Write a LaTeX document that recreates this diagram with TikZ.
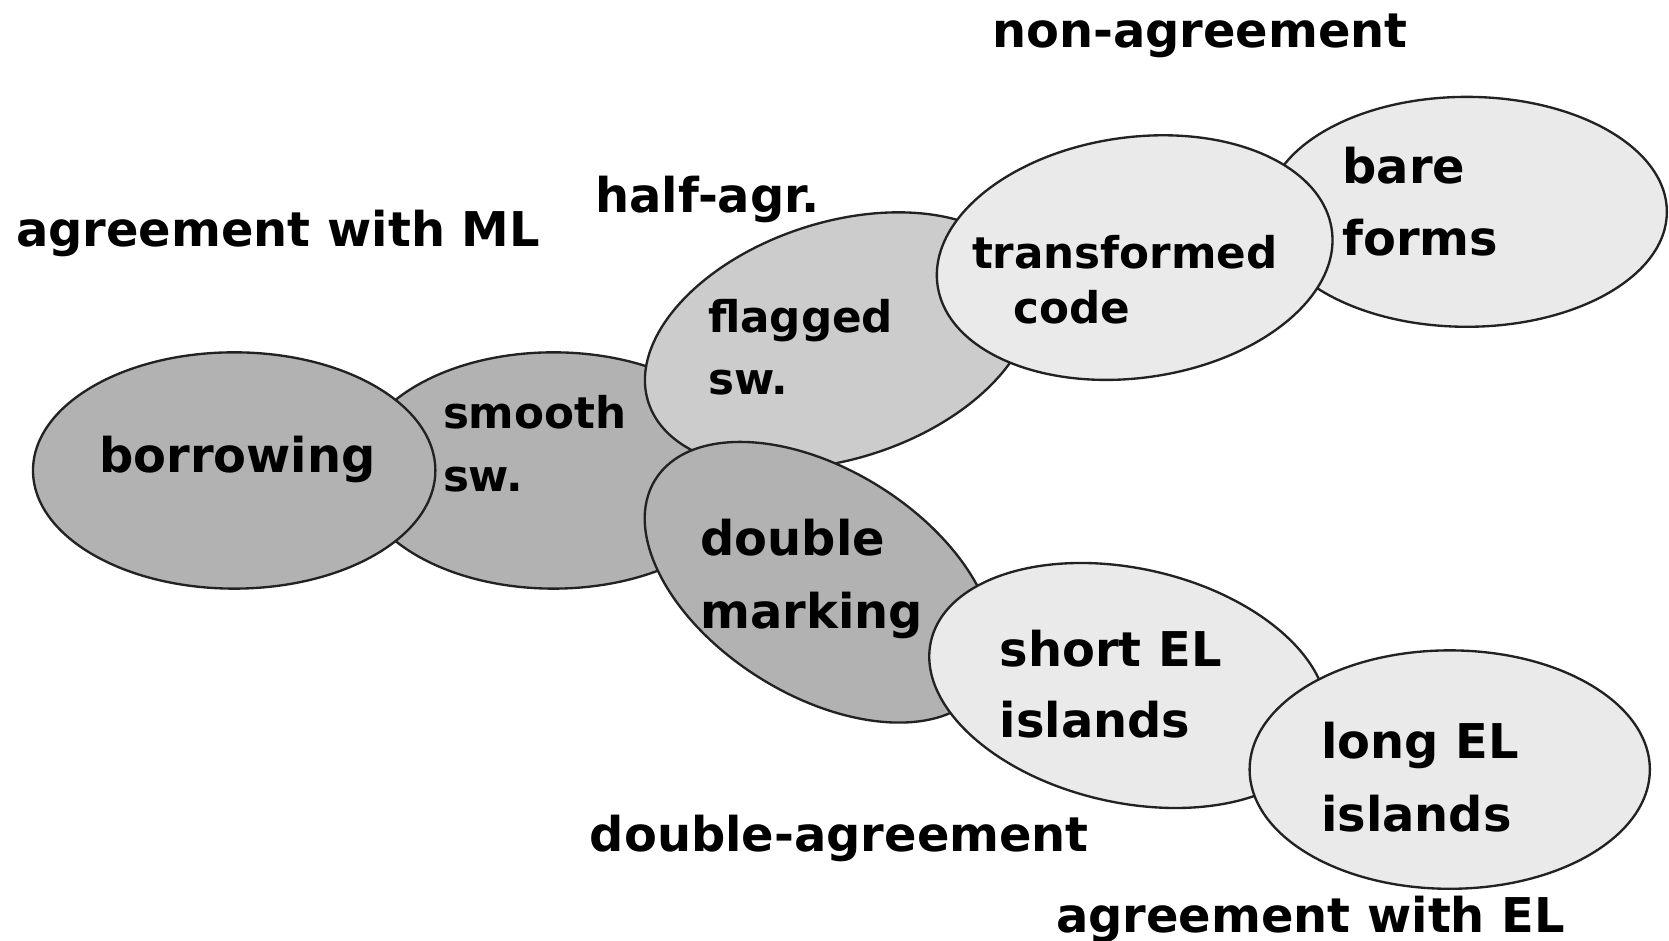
\documentclass[tikz,border=0pt]{standalone}
\usepackage{fontspec}
\setmainfont{DejaVu Sans}
\definecolor{fillDark}{HTML}{B2B2B2}
\definecolor{fillMid}{HTML}{CCCCCC}
\definecolor{fillLight}{HTML}{EAEAEA}
\definecolor{rim}{HTML}{222222}
\tikzset{
  blob/.style={draw=rim, line width=2.2pt},
  darkblob/.style={blob, fill=fillDark},
  midblob/.style={blob, fill=fillMid},
  lightblob/.style={blob, fill=fillLight},
  word/.style={anchor=base west, inner sep=0pt, text=black,
               font=\fontsize{45}{54}\selectfont\bfseries},
  smallword/.style={word, font=\fontsize{41}{50}\selectfont\bfseries},
}
\begin{document}
\begin{tikzpicture}[x=1pt, y=-1pt]
\useasboundingbox (0,0) rectangle (1568,884);
\fill[white] (0,0) rectangle (1568,884);

% overlapping regions, back to front
\draw[darkblob, shift={(520,442)}] (0,0) ellipse [x radius=185pt, y radius=111pt];
\draw[darkblob, shift={(220,442)}] (0,0) ellipse [x radius=189pt, y radius=111pt];
\draw[midblob, shift={(788,320)}, rotate=18] (0,0) ellipse [x radius=188pt, y radius=111pt];
\draw[darkblob, shift={(770,547)}, rotate=-32] (0,0) ellipse [x radius=182pt, y radius=106pt];
\draw[lightblob, shift={(1378,199)}] (0,0) ellipse [x radius=188pt, y radius=108pt];
\draw[lightblob, shift={(1066,242)}, rotate=8] (0,0) ellipse [x radius=187pt, y radius=113pt];
\draw[lightblob, shift={(1060,644)}, rotate=-12.6] (0,0) ellipse [x radius=190pt, y radius=110pt];
\draw[lightblob, shift={(1362,723)}] (0,0) ellipse [x radius=188pt, y radius=112pt];

% region labels
\node[word] (borrow) at (93,444) {borrowing};
\node[smallword] (smoothA) at (416,403) {smooth};
\node[smallword] (smoothB) at (416,462) {sw.};
\node[smallword] (flagA) at (665,312) {flagged};
\node[smallword] (flagB) at (665,371) {sw.};
\node[word] (doubleA) at (658,522) {double};
\node[word] (doubleB) at (658,590) {marking};
\node[smallword] (transA) at (913,252) {transformed};
\node[smallword] (transB) at (952,304) {code};
\node[word] (bareA) at (1261,172) {bare};
\node[word] (bareB) at (1261,240) {forms};
\node[word] (shortA) at (939,626) {short EL};
\node[word] (shortB) at (939,693) {islands};
\node[word] (longA) at (1241,713) {long EL};
\node[word] (longB) at (1241,781) {islands};

% agreement labels
\node[word] (nonagr) at (932,45) {non-agreement};
\node[word] (halfagr) at (559,200) {half-agr.};
\node[word] (agrML) at (15,232) {agreement with ML};
\node[word] (dblagr) at (554,800) {double-agreement};
\node[word] (agrEL) at (992,876) {agreement with EL};
\end{tikzpicture}
\end{document}
